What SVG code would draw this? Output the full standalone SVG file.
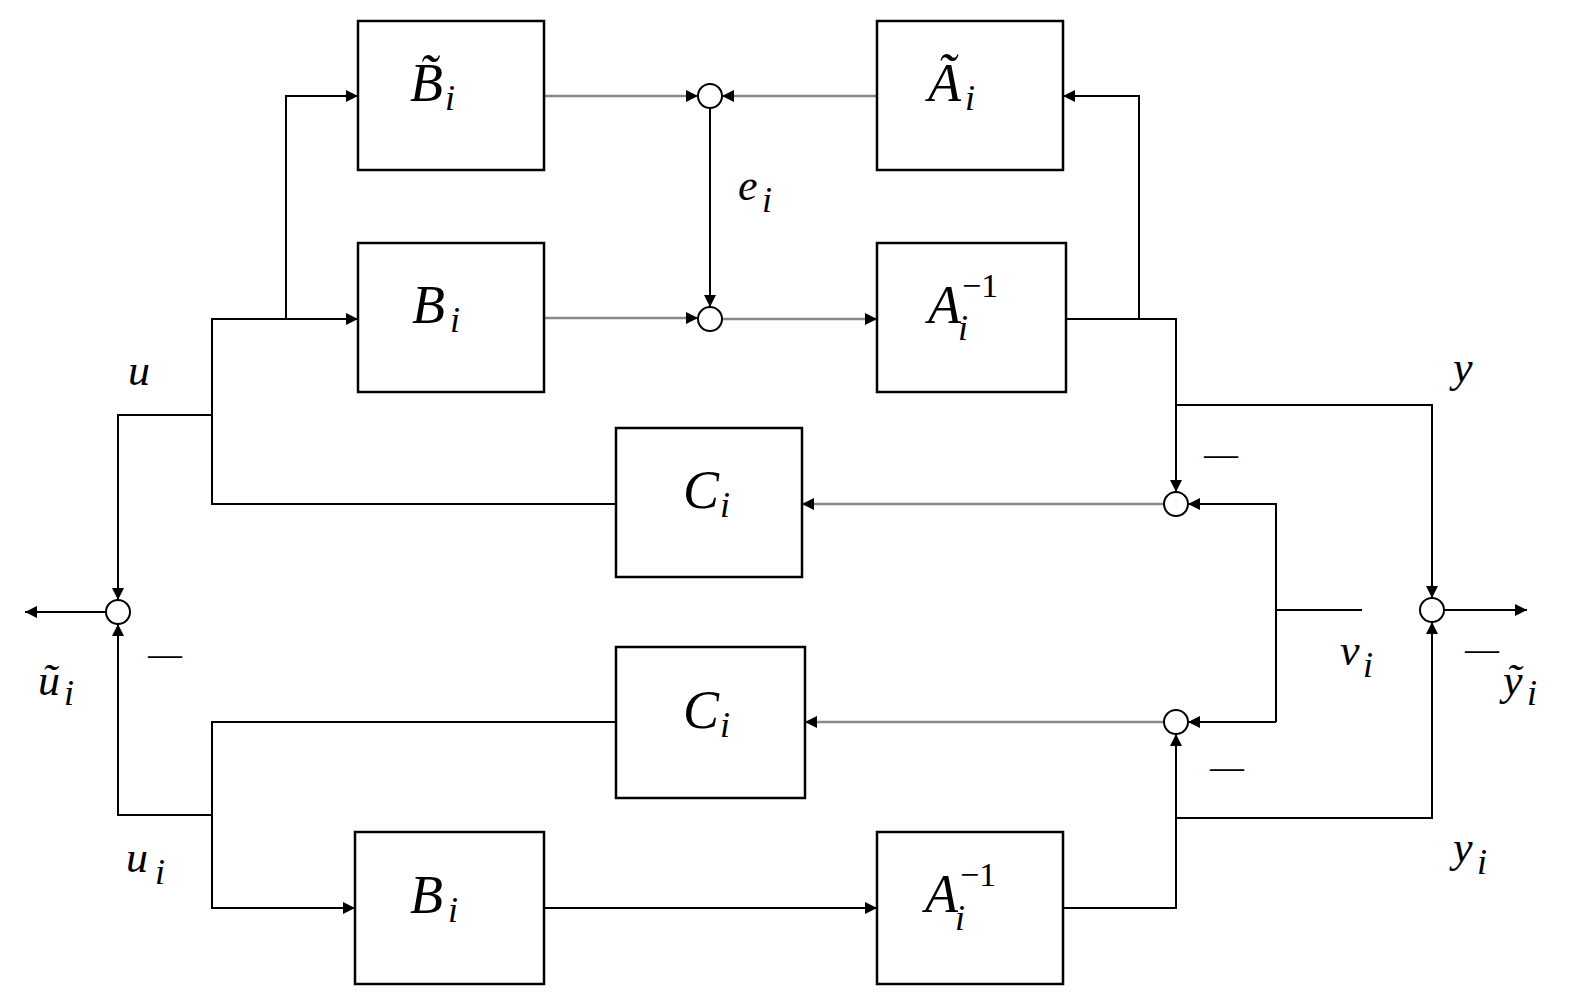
<svg xmlns="http://www.w3.org/2000/svg" width="1571" height="1008" viewBox="0 0 1571 1008">
<style>
.b{fill:#fff;stroke:#000;stroke-width:2.5}
.c{fill:#fff;stroke:#000;stroke-width:2}
.l{fill:none;stroke:#000;stroke-width:2}
.g{fill:none;stroke:#888;stroke-width:2.5}
.m{font-family:"Liberation Serif",serif;font-style:italic;font-size:54px;fill:#000}
.s{font-family:"Liberation Serif",serif;font-style:italic;font-size:36px;fill:#000}
.n{font-family:"Liberation Serif",serif;font-size:34px;fill:#000}
.t{font-family:"Liberation Serif",serif;font-style:italic;font-size:44px;fill:#000}
</style>
<defs>
<marker id="a" viewBox="0 0 10 10" refX="10" refY="5" markerWidth="8" markerHeight="8" orient="auto" markerUnits="userSpaceOnUse"><path d="M0,0 L10,5 L0,10 z" fill="#000"/></marker>
<marker id="ar" viewBox="0 0 10 10" refX="10" refY="5" markerWidth="16" markerHeight="12" orient="auto" markerUnits="userSpaceOnUse"><path d="M0,0 L10,5 L0,10 z" fill="#000"/></marker>
</defs>
<rect width="1571" height="1008" fill="#fff"/>
<g id="connectors">
<path class="g" d="M544,96 H698" marker-end="url(#ar)"/>
<path class="g" d="M877,96 H722" marker-end="url(#ar)"/>
<path class="l" d="M710,108 V307" marker-end="url(#ar)"/>
<path class="g" d="M544,318 H698" marker-end="url(#ar)"/>
<path class="g" d="M722,319 H877" marker-end="url(#ar)"/>
<path class="l" d="M1066,319 H1176 V492" marker-end="url(#ar)"/>
<path class="l" d="M1139,319 V96 H1063" marker-end="url(#ar)"/>
<path class="l" d="M1176,405 H1432 V598" marker-end="url(#ar)"/>
<path class="g" d="M1164,504 H802" marker-end="url(#ar)"/>
<path class="l" d="M616,504 H212 V319 H358" marker-end="url(#ar)"/>
<path class="l" d="M286,319 V96 H358" marker-end="url(#ar)"/>
<path class="l" d="M212,415 H118 V600" marker-end="url(#ar)"/>
<path class="l" d="M106,612 H25" marker-end="url(#ar)"/>
<path class="l" d="M1362,610 H1276"/>
<path class="l" d="M1276,722 V504 H1188" marker-end="url(#ar)"/>
<path class="l" d="M1276,722 H1188" marker-end="url(#ar)"/>
<path class="g" d="M1164,722 H805" marker-end="url(#ar)"/>
<path class="l" d="M616,722 H212 V908 H355" marker-end="url(#ar)"/>
<path class="l" d="M212,815 H118 V624" marker-end="url(#ar)"/>
<path class="l" d="M544,908 H877" marker-end="url(#ar)"/>
<path class="l" d="M1063,908 H1176 V734" marker-end="url(#ar)"/>
<path class="l" d="M1176,818 H1432 V622" marker-end="url(#ar)"/>
<path class="l" d="M1444,610 H1527" marker-end="url(#ar)"/>
</g>
<g id="Bt"><rect class="b" x="358" y="21" width="186" height="149"/><text class="m" x="410" y="101">B̃</text><text class="s" x="445" y="110">i</text></g>
<g id="At"><rect class="b" x="877" y="21" width="186" height="149"/><text class="m" x="928" y="101">Ã</text><text class="s" x="965" y="110">i</text></g>
<g id="B1"><rect class="b" x="358" y="243" width="186" height="149"/><text class="m" x="412" y="323">B</text><text class="s" x="450" y="332">i</text></g>
<g id="A1"><rect class="b" x="877" y="243" width="189" height="149"/><text class="m" x="928" y="323">A</text><text class="s" x="958" y="340">i</text><text class="n" x="962" y="297">−1</text></g>
<g id="C1"><rect class="b" x="616" y="428" width="186" height="149"/><text class="m" x="683" y="508">C</text><text class="s" x="720" y="517">i</text></g>
<g id="C2"><rect class="b" x="616" y="647" width="189" height="151"/><text class="m" x="683" y="728">C</text><text class="s" x="720" y="737">i</text></g>
<g id="B2"><rect class="b" x="355" y="832" width="189" height="152"/><text class="m" x="410" y="913">B</text><text class="s" x="448" y="922">i</text></g>
<g id="A2"><rect class="b" x="877" y="832" width="186" height="152"/><text class="m" x="925" y="912">A</text><text class="s" x="955" y="930">i</text><text class="n" x="960" y="886">−1</text></g>
<g id="sums">
<circle class="c" cx="710" cy="96" r="12"/>
<circle class="c" cx="710" cy="319" r="12"/>
<circle class="c" cx="1176" cy="504" r="12"/>
<circle class="c" cx="1176" cy="722" r="12"/>
<circle class="c" cx="118" cy="612" r="12"/>
<circle class="c" cx="1432" cy="610" r="12"/>
</g>
<g id="labels">
<text class="t" x="128" y="385">u</text>
<text class="t" x="738" y="200">e</text><text class="s" x="762" y="212">i</text>
<text class="t" x="1453" y="382">y</text>
<text class="n" x="1204" y="465">—</text>
<text class="n" x="148" y="665">—</text>
<text class="t" x="38" y="695">ũ</text><text class="s" x="64" y="705">i</text>
<text class="t" x="1340" y="665">v</text><text class="s" x="1363" y="677">i</text>
<text class="n" x="1465" y="660">—</text>
<text class="t" x="1503" y="695">ỹ</text><text class="s" x="1527" y="705">i</text>
<text class="n" x="1210" y="778">—</text>
<text class="t" x="126" y="872">u</text><text class="s" x="155" y="884">i</text>
<text class="t" x="1453" y="862">y</text><text class="s" x="1477" y="874">i</text>
</g>
</svg>
